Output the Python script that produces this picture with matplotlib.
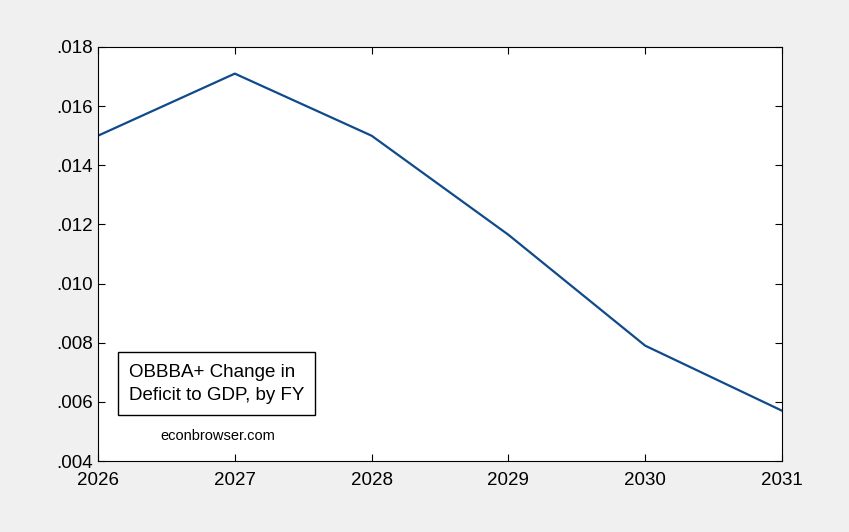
import matplotlib.pyplot as plt
from matplotlib.ticker import FuncFormatter

plt.rcParams["font.family"] = ["Liberation Sans", "DejaVu Sans"]

years = [2026, 2027, 2028, 2029, 2030, 2031]
deficit_change = [0.0150, 0.0171, 0.0150, 0.01165, 0.0079, 0.0057]

fig = plt.figure(figsize=(8.49, 5.32), dpi=100, facecolor="#f0f0f0")
ax = fig.add_axes([98 / 849, 71 / 532, 684 / 849, 414 / 532])
ax.plot(years, deficit_change, color="#0f4a8a", linewidth=1.6)

ax.set_xlim(2026, 2031)
ax.set_ylim(0.004, 0.018)
ax.set_yticks([0.004 + 0.002 * i for i in range(8)])
ax.yaxis.set_major_formatter(FuncFormatter(lambda v, _: f"{v:.3f}".lstrip("0")))
ax.tick_params(direction="in", labelsize=13.5, length=5, right=True, top=True,
               labelright=False, labeltop=False)
ax.tick_params(axis="x", pad=8)

ax.text(0.045, 0.235, "OBBBA+ Change in\nDeficit to GDP, by FY", transform=ax.transAxes,
        fontsize=13.5, va="top", linespacing=1.45,
        bbox=dict(facecolor="white", edgecolor="black", boxstyle="square,pad=0.6"))
ax.text(0.175, 0.05, "econbrowser.com", transform=ax.transAxes, fontsize=10.5, ha="center")

fig.savefig("out.png", dpi=100, facecolor=fig.get_facecolor())
